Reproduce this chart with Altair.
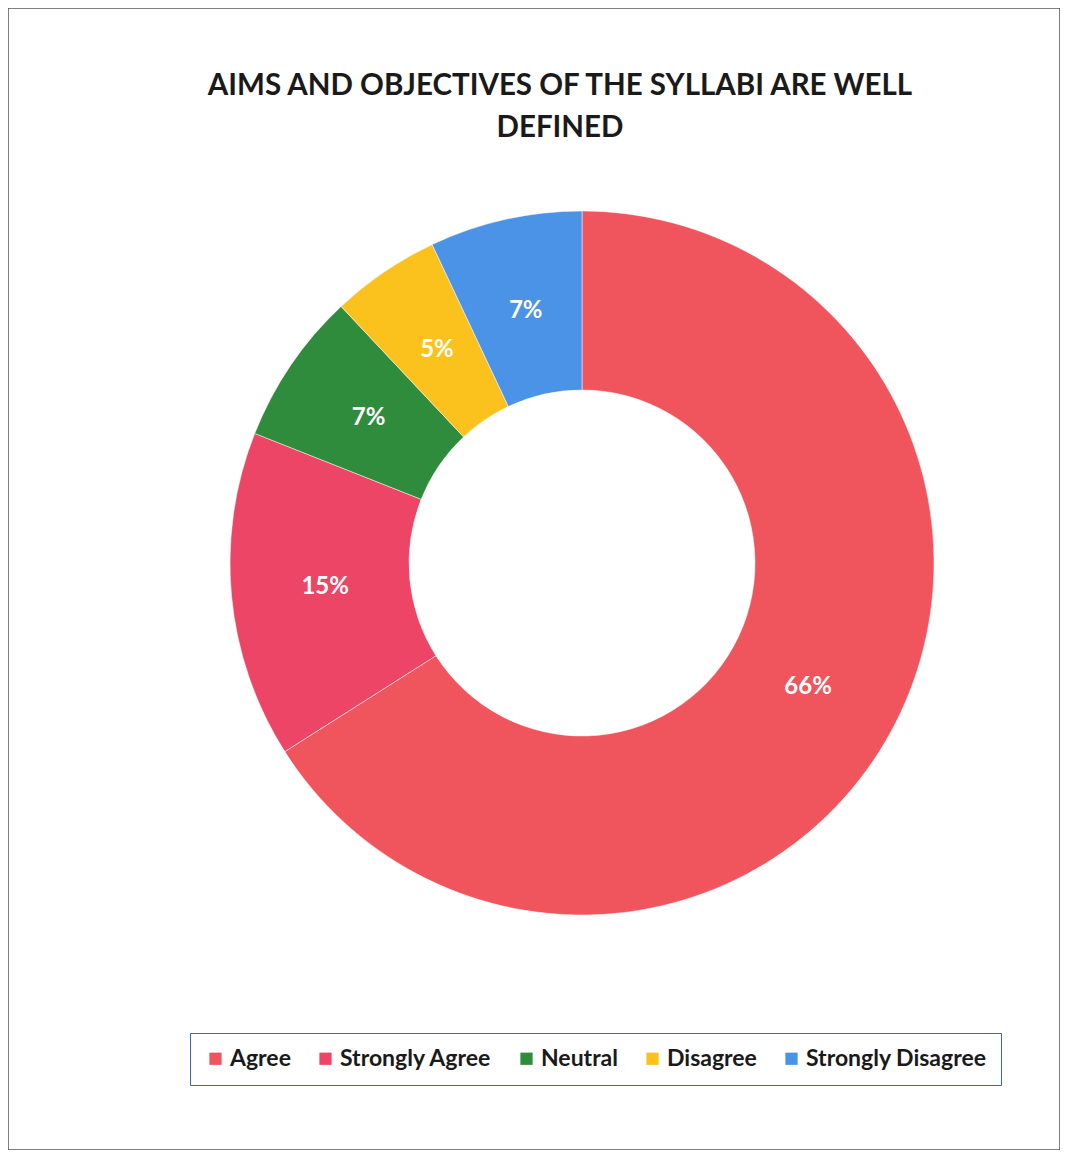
import altair as alt
import pandas as pd

categories = ["Agree", "Strongly Agree", "Neutral", "Disagree", "Strongly Disagree"]
values = [66, 15, 7, 5, 7]
labels = ["66%", "15%", "7%", "5%", "7%"]
colors = ["#F0545C", "#EC4565", "#2F8C3C", "#FBC21E", "#4B93E6"]

df = pd.DataFrame({
    "category": categories,
    "value": values,
    "label": labels,
    "order": list(range(len(categories))),
})

font = "Lato"

base = alt.Chart(df).encode(
    theta=alt.Theta("value:Q", stack=True),
    order=alt.Order("order:Q", sort="ascending"),
    x=alt.value(574),
    y=alt.value(555),
)

arcs = base.mark_arc(outerRadius=352, innerRadius=173, stroke="white", strokeWidth=0.5).encode(
    color=alt.Color(
        "category:N",
        scale=alt.Scale(domain=categories, range=colors),
        sort=categories,
        legend=alt.Legend(
            title=None,
            orient="none",
            legendX=182,
            legendY=1025,
            direction="horizontal",
            columns=5,
            symbolType="square",
            symbolSize=150,
            symbolStrokeWidth=0,
            labelFont=font,
            labelFontSize=23,
            labelFontWeight="bold",
            labelColor="#1a1a1a",
            labelOffset=3,
            columnPadding=23,
            padding=14,
            strokeColor="#3F63B8",
            fillColor="white",
            labelLimit=300,
        ),
    )
)

text = base.mark_text(radius=258, font=font, fontSize=24, fontWeight="bold", color="white").encode(
    text="label:N"
)

chart = (
    alt.layer(arcs, text)
    .properties(
        width=1052,
        height=1142,
        padding=0,
        title=alt.TitleParams(
            text=["AIMS AND OBJECTIVES OF THE SYLLABI ARE WELL", "DEFINED"],
            font=font,
            fontSize=29.5,
            fontWeight="bold",
            color="#1a1a1a",
            anchor="middle",
            offset=-135,
            lineHeight=42,
            dx=26,
        ),
    )
    .configure(background="white")
    .configure_view(stroke="#555555", strokeWidth=1.5)
)

chart.save("out.html", embed_options={"renderer": "svg", "actions": False})
